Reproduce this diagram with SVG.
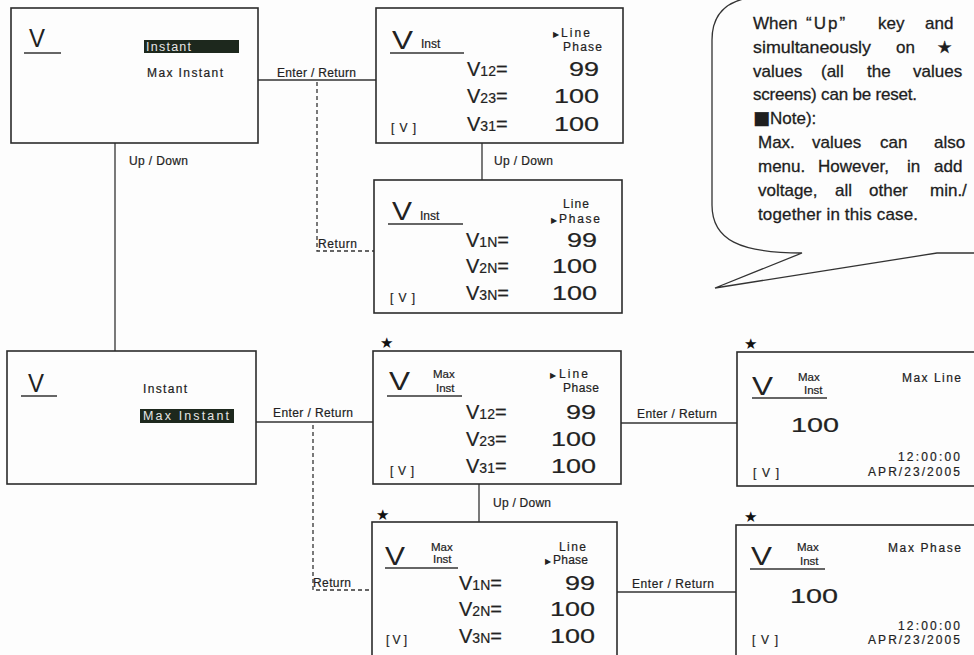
<svg xmlns="http://www.w3.org/2000/svg" width="974" height="655" viewBox="0 0 974 655">
<style>
.bx{fill:none;stroke:#2b2b2b;stroke-width:1.6}
.ln{fill:none;stroke:#333;stroke-width:1.3}
.dash{stroke-dasharray:4 3}
.t{font-family:"Liberation Sans",Arial,sans-serif;fill:#222;stroke:#222;stroke-width:0.2}
.lbl{font-size:12px}
.big{font-size:25px;stroke-width:0}
.val{font-size:20px;stroke-width:0.2}
.sm{font-size:12px}
.xs{font-size:11.5px}
.u{stroke:#333;stroke-width:1.5}
.star{font-family:"DejaVu Sans",sans-serif;font-size:15px;fill:#111}
.tri{font-family:"DejaVu Sans",sans-serif;font-size:8px;fill:#222}
.hl{fill:#1d281d}
.hlt{font-family:"Liberation Sans",Arial,sans-serif;font-size:12.5px;fill:#e6e6e6}
.co{font-family:"Liberation Sans",Arial,sans-serif;font-size:17px;fill:#1e1e1e;stroke:#1e1e1e;stroke-width:0.3}
</style>
<rect width="974" height="655" fill="#fdfdfd"/>

<g id="connectors">
  <line class="ln" x1="258" y1="80" x2="376" y2="80"/>
  <text class="t lbl" x="277" y="77" textLength="79">Enter / Return</text>
  <line class="ln" x1="115" y1="143" x2="115" y2="351"/>
  <text class="t lbl" x="129" y="165" textLength="59">Up / Down</text>
  <path class="ln dash" d="M317,82 V251 H374"/>
  <text class="t lbl" x="318" y="248" textLength="39">Return</text>
  <line class="ln" x1="482" y1="143" x2="482" y2="180"/>
  <text class="t lbl" x="494" y="165" textLength="59">Up / Down</text>

  <line class="ln" x1="256" y1="422" x2="373" y2="422"/>
  <text class="t lbl" x="273" y="417" textLength="80">Enter / Return</text>
  <path class="ln dash" d="M313,425 V590 H372"/>
  <text class="t lbl" x="313" y="587" textLength="38">Return</text>
  <line class="ln" x1="621" y1="423" x2="737" y2="423"/>
  <text class="t lbl" x="637" y="418" textLength="80">Enter / Return</text>
  <line class="ln" x1="479" y1="484" x2="479" y2="522"/>
  <text class="t lbl" x="493" y="507" textLength="58">Up / Down</text>
  <line class="ln" x1="617" y1="592" x2="736" y2="592"/>
  <text class="t lbl" x="632" y="588" textLength="82">Enter / Return</text>
</g>

<g id="menu-instant">
  <rect class="bx" x="11" y="8" width="247" height="135"/>
  <text class="t big" x="29" y="47" font-size="21" textLength="16" lengthAdjust="spacingAndGlyphs">V</text>
  <line class="u" x1="24" y1="53" x2="61" y2="53"/>
  <rect class="hl" x="144" y="40" width="95" height="13"/>
  <text class="hlt" x="146" y="51" textLength="45">Instant</text>
  <text class="t sm" x="147" y="77" font-size="12.5" textLength="76">Max Instant</text>
</g>

<g id="inst-line">
  <rect class="bx" x="376" y="8" width="247" height="135"/>
  <text class="t big" x="392" y="49" textLength="21" lengthAdjust="spacingAndGlyphs">V</text>
  <text class="t sm" x="421" y="48">Inst</text>
  <line class="u" x1="390" y1="53" x2="464" y2="53"/>
  <text class="tri" x="553" y="37">▶</text>
  <text class="t sm" x="561" y="37" textLength="29">Line</text>
  <text class="t sm" x="563" y="51" textLength="39">Phase</text>
  <text class="t val" x="467" y="76">V<tspan font-size="14">12</tspan>=</text>
  <text class="t val" x="467" y="103">V<tspan font-size="14">23</tspan>=</text>
  <text class="t val" x="467" y="131">V<tspan font-size="14">31</tspan>=</text>
  <text class="t val" x="599" y="76" text-anchor="end" textLength="30" lengthAdjust="spacingAndGlyphs">99</text>
  <text class="t val" x="599" y="103" text-anchor="end" textLength="45" lengthAdjust="spacingAndGlyphs">100</text>
  <text class="t val" x="599" y="131" text-anchor="end" textLength="45" lengthAdjust="spacingAndGlyphs">100</text>
  <text class="t sm" x="391" y="132" textLength="25">[V]</text>
</g>

<g id="inst-phase">
  <rect class="bx" x="374" y="180" width="248" height="133"/>
  <text class="t big" x="392" y="220" textLength="20" lengthAdjust="spacingAndGlyphs">V</text>
  <text class="t sm" x="420" y="220">Inst</text>
  <line class="u" x1="388" y1="224" x2="463" y2="224"/>
  <text class="t sm" x="563" y="208" textLength="26">Line</text>
  <text class="tri" x="551" y="223">▶</text>
  <text class="t sm" x="559" y="223" textLength="41">Phase</text>
  <text class="t val" x="466" y="247">V<tspan font-size="14">1N</tspan>=</text>
  <text class="t val" x="466" y="273">V<tspan font-size="14">2N</tspan>=</text>
  <text class="t val" x="466" y="300">V<tspan font-size="14">3N</tspan>=</text>
  <text class="t val" x="597" y="247" text-anchor="end" textLength="30" lengthAdjust="spacingAndGlyphs">99</text>
  <text class="t val" x="597" y="273" text-anchor="end" textLength="45" lengthAdjust="spacingAndGlyphs">100</text>
  <text class="t val" x="597" y="300" text-anchor="end" textLength="45" lengthAdjust="spacingAndGlyphs">100</text>
  <text class="t sm" x="390" y="302" textLength="25">[V]</text>
</g>

<g id="menu-max-instant">
  <rect class="bx" x="7" y="351" width="249" height="133"/>
  <text class="t big" x="28" y="392" font-size="21" textLength="16" lengthAdjust="spacingAndGlyphs">V</text>
  <line class="u" x1="21" y1="396" x2="57" y2="396"/>
  <text class="t sm" x="143" y="393" font-size="12.5" textLength="44">Instant</text>
  <rect class="hl" x="140" y="409" width="94" height="14"/>
  <text class="hlt" x="143" y="420" textLength="86">Max Instant</text>
</g>

<g id="max-inst-line">
  <text class="star" x="380" y="348">★</text>
  <rect class="bx" x="373" y="351" width="248" height="133"/>
  <text class="t big" x="389" y="390" textLength="21" lengthAdjust="spacingAndGlyphs">V</text>
  <text class="t xs" x="433" y="378">Max</text>
  <text class="t xs" x="436" y="392">Inst</text>
  <line class="u" x1="387" y1="396" x2="462" y2="396"/>
  <text class="tri" x="550" y="378">▶</text>
  <text class="t sm" x="559" y="378" textLength="29">Line</text>
  <text class="t sm" x="563" y="392" textLength="36">Phase</text>
  <text class="t val" x="466" y="419">V<tspan font-size="14">12</tspan>=</text>
  <text class="t val" x="466" y="446">V<tspan font-size="14">23</tspan>=</text>
  <text class="t val" x="466" y="473">V<tspan font-size="14">31</tspan>=</text>
  <text class="t val" x="596" y="419" text-anchor="end" textLength="30" lengthAdjust="spacingAndGlyphs">99</text>
  <text class="t val" x="596" y="446" text-anchor="end" textLength="45" lengthAdjust="spacingAndGlyphs">100</text>
  <text class="t val" x="596" y="473" text-anchor="end" textLength="45" lengthAdjust="spacingAndGlyphs">100</text>
  <text class="t sm" x="390" y="475" textLength="24">[V]</text>
</g>

<g id="max-line">
  <text class="star" x="744" y="349">★</text>
  <rect class="bx" x="737" y="352" width="250" height="134"/>
  <text class="t big" x="752" y="395" textLength="21" lengthAdjust="spacingAndGlyphs">V</text>
  <text class="t xs" x="798" y="381">Max</text>
  <text class="t xs" x="804" y="394">Inst</text>
  <line class="u" x1="752" y1="398" x2="827" y2="398"/>
  <text class="t sm" x="902" y="382" textLength="59">Max  Line</text>
  <text class="t val" x="791" y="432" font-size="24" textLength="48" lengthAdjust="spacingAndGlyphs">100</text>
  <text class="t sm" x="960" y="461" text-anchor="end" textLength="62">12:00:00</text>
  <text class="t sm" x="960" y="476" text-anchor="end" textLength="92">APR/23/2005</text>
  <text class="t sm" x="753" y="477" textLength="26">[V]</text>
</g>

<g id="max-inst-phase">
  <text class="star" x="376" y="520">★</text>
  <rect class="bx" x="372" y="522" width="245" height="140"/>
  <text class="t big" x="385" y="565" textLength="20" lengthAdjust="spacingAndGlyphs">V</text>
  <text class="t xs" x="431" y="551">Max</text>
  <text class="t xs" x="433" y="563">Inst</text>
  <line class="u" x1="385" y1="568" x2="458" y2="568"/>
  <text class="t sm" x="559" y="551" textLength="27">Line</text>
  <text class="tri" x="545" y="564">▶</text>
  <text class="t sm" x="553" y="564" textLength="35">Phase</text>
  <text class="t val" x="459" y="590">V<tspan font-size="14">1N</tspan>=</text>
  <text class="t val" x="459" y="616">V<tspan font-size="14">2N</tspan>=</text>
  <text class="t val" x="459" y="643">V<tspan font-size="14">3N</tspan>=</text>
  <text class="t val" x="595" y="590" text-anchor="end" textLength="30" lengthAdjust="spacingAndGlyphs">99</text>
  <text class="t val" x="595" y="616" text-anchor="end" textLength="45" lengthAdjust="spacingAndGlyphs">100</text>
  <text class="t val" x="595" y="643" text-anchor="end" textLength="45" lengthAdjust="spacingAndGlyphs">100</text>
  <text class="t sm" x="386" y="644" textLength="21">[V]</text>
</g>

<g id="max-phase">
  <text class="star" x="744" y="522">★</text>
  <rect class="bx" x="736" y="525" width="250" height="137"/>
  <text class="t big" x="751" y="565" textLength="21" lengthAdjust="spacingAndGlyphs">V</text>
  <text class="t xs" x="797" y="551">Max</text>
  <text class="t xs" x="800" y="565">Inst</text>
  <line class="u" x1="750" y1="569" x2="825" y2="569"/>
  <text class="t sm" x="888" y="552" textLength="73">Max  Phase</text>
  <text class="t val" x="790" y="603" font-size="24" textLength="48" lengthAdjust="spacingAndGlyphs">100</text>
  <text class="t sm" x="960" y="630" text-anchor="end" textLength="62">12:00:00</text>
  <text class="t sm" x="960" y="644" text-anchor="end" textLength="92">APR/23/2005</text>
  <text class="t sm" x="752" y="644" textLength="26">[V]</text>
</g>

<g id="note-callout">
  <path class="ln" stroke-width="1.6" d="M748,-2 C726,2 712,14 712,40 L712,205 C712,240 740,253 802,253 L715,288 L937,253 L980,253"/>
  <text class="co" y="29"><tspan x="753">When</tspan><tspan x="806" letter-spacing="2">“Up”</tspan><tspan x="878">key</tspan><tspan x="925">and</tspan></text>
  <text class="co" y="53"><tspan x="753" textLength="118" lengthAdjust="spacingAndGlyphs">simultaneously</tspan><tspan x="896">on</tspan><tspan x="937" font-family="DejaVu Sans, sans-serif" font-size="17">★</tspan></text>
  <text class="co" y="77"><tspan x="753">values</tspan><tspan x="821">(all</tspan><tspan x="867">the</tspan><tspan x="913">values</tspan></text>
  <text class="co" x="753" y="100" textLength="164">screens) can be reset.</text>
  <text class="co" x="753" y="124"><tspan font-family="DejaVu Sans, sans-serif" font-size="18">■</tspan>Note):</text>
  <text class="co" y="148"><tspan x="758">Max.</tspan><tspan x="812">values</tspan><tspan x="880">can</tspan><tspan x="934">also</tspan></text>
  <text class="co" y="172"><tspan x="758">menu.</tspan><tspan x="818">However,</tspan><tspan x="907">in</tspan><tspan x="934">add</tspan></text>
  <text class="co" y="196"><tspan x="758">voltage,</tspan><tspan x="835">all</tspan><tspan x="869">other</tspan><tspan x="930">min./</tspan></text>
  <text class="co" x="758" y="220" textLength="160">together in this case.</text>
</g>
</svg>
